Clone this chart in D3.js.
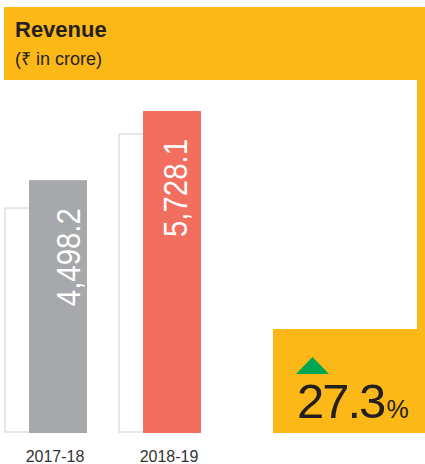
<!DOCTYPE html>
<html>
<head>
<meta charset="utf-8">
<script src="https://cdn.jsdelivr.net/npm/d3@7"></script>
<style>
  html, body { margin: 0; padding: 0; background: #fff; }
  svg { display: block; }
  text { font-family: "Liberation Sans", Arial, sans-serif; }
</style>
</head>
<body>
<svg id="chart" width="425" height="464"></svg>
<script>
const categories = ["2017-18", "2018-19"];
const revenue = [4498.2, 5728.1];
const valueLabels = ["4,498.2", "5,728.1"];
const ghostValues = [4000, 5320];
const barColors = ["#a7a8ab", "#f26e5f"];
const title = "Revenue";
const subtitle = "(₹ in crore)";
const growthValue = "27.3";
const growthUnit = "%";

const svg = d3.select("#chart");
const yellow = "#fbb817";

// Decorative frame
svg.append("rect").attr("x", 4).attr("y", 7).attr("width", 421).attr("height", 73).attr("fill", yellow);
svg.append("rect").attr("x", 417).attr("y", 7).attr("width", 8).attr("height", 330).attr("fill", yellow);
svg.append("rect").attr("x", 273).attr("y", 329).attr("width", 152).attr("height", 104).attr("fill", yellow);

svg.append("text").attr("x", 15).attr("y", 37).attr("font-size", 22).attr("font-weight", "bold")
  .attr("fill", "#231f20").text(title);
svg.append("text").attr("x", 15).attr("y", 65).attr("font-size", 18)
  .attr("fill", "#231f20").text(subtitle);

// Scales
const baseline = 433;
const y = d3.scaleLinear().domain([0, d3.max(revenue)]).range([baseline, 111]);
const x = d3.scaleBand().domain(categories).range([29, 201]).paddingInner(56 / 114).paddingOuter(0);
const barW = x.bandwidth();

// Ghost outlines
svg.selectAll("rect.ghost").data(ghostValues).join("rect")
  .attr("class", "ghost")
  .attr("x", (d, i) => x(categories[i]) - 24)
  .attr("y", d => y(d))
  .attr("width", barW)
  .attr("height", d => baseline - 1 - y(d))
  .attr("fill", "none")
  .attr("stroke", "#e6e7e8")
  .attr("stroke-width", 2);

// Bars
svg.selectAll("rect.bar").data(revenue).join("rect")
  .attr("class", "bar")
  .attr("x", (d, i) => x(categories[i]))
  .attr("y", d => y(d))
  .attr("width", barW)
  .attr("height", d => baseline - y(d))
  .attr("fill", (d, i) => barColors[i]);

// Value labels (rotated)
const labelOffset = [51, 44];
svg.selectAll("text.val").data(revenue).join("text")
  .attr("class", "val")
  .attr("transform", (d, i) => `translate(${x(categories[i]) + labelOffset[i]},${y(d) + 28}) rotate(-90)`)
  .attr("text-anchor", "end")
  .attr("font-size", 34)
  .attr("fill", "#fff")
  .attr("textLength", 98)
  .attr("lengthAdjust", "spacingAndGlyphs")
  .text((d, i) => valueLabels[i]);

// Category labels
svg.selectAll("text.cat").data(categories).join("text")
  .attr("class", "cat")
  .attr("x", d => x(d) + barW / 2 - 3)
  .attr("y", 462)
  .attr("text-anchor", "middle")
  .attr("font-size", 16)
  .attr("fill", "#333")
  .text(d => d);

// Growth indicator
svg.append("path").attr("d", "M296,374 L312.5,357 L329,374 Z").attr("fill", "#00a651");
const g = svg.append("text").attr("x", 297).attr("y", 418).attr("fill", "#231f20");
g.append("tspan").attr("font-size", 49).attr("letter-spacing", -2).text(growthValue);
g.append("tspan").attr("font-size", 25).attr("dx", 2).text(growthUnit);
</script>
</body>
</html>
